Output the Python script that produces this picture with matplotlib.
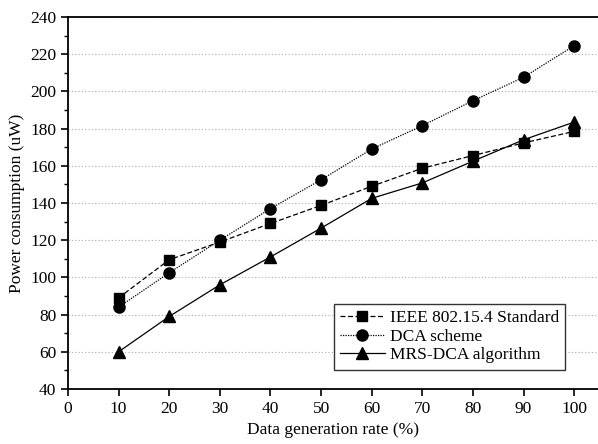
import numpy as np
import matplotlib
import matplotlib.pyplot as plt
from matplotlib.ticker import MultipleLocator

plt.rcParams['font.family'] = ['Liberation Serif', 'DejaVu Serif']

rates = [10, 20, 30, 40, 50, 60, 70, 80, 90, 100]
ieee = [89, 109.5, 119, 129, 138.7, 149, 158.7, 165.5, 172.3, 178.5]
dca = [84, 102.5, 120, 137, 152.5, 169, 181.6, 195, 207.6, 224.6]
mrs = [60, 79, 96, 111, 126.5, 142.5, 150.8, 162.5, 174, 183.5]


def main():
    fig = plt.figure(figsize=(5.98, 4.44), dpi=100)
    ax = fig.add_axes([0.1137, 0.1239, 0.8863, 0.8378])

    ax.plot(rates, ieee, color='black', linestyle=(0, (4, 2)), linewidth=0.9,
            marker='s', markersize=7.5, label='IEEE 802.15.4 Standard')
    ax.plot(rates, dca, color='black', linestyle=(0, (1, 1)), linewidth=0.9,
            marker='o', markersize=8, label='DCA scheme')
    ax.plot(rates, mrs, color='black', linestyle='-', linewidth=0.9,
            marker='^', markersize=9, label='MRS-DCA algorithm')

    ax.set_xlim(0, 104.7)
    ax.set_ylim(40, 240)
    ax.xaxis.set_major_locator(MultipleLocator(10))
    ax.yaxis.set_major_locator(MultipleLocator(20))
    ax.yaxis.set_minor_locator(MultipleLocator(10))
    ax.grid(axis='y', which='major', color='#aaaaaa', linestyle=(0, (1, 2)), linewidth=0.8)
    ax.set_axisbelow(True)

    ax.spines['right'].set_visible(False)
    for s in ['left', 'bottom', 'top']:
        ax.spines[s].set_linewidth(1.3)
    ax.tick_params(which='major', direction='out', length=5, width=1.2, labelsize=12.5)
    ax.tick_params(which='minor', direction='out', length=3, width=1.0)

    ax.set_xlabel('Data generation rate (%)', fontsize=12.5)
    ax.set_ylabel('Power consumption (uW)', fontsize=12.5)

    leg = ax.legend(loc='lower right', bbox_to_anchor=(0.955, 0.029), fontsize=12.5,
                    fancybox=False, framealpha=1, edgecolor='#333333',
                    handlelength=2.6, borderpad=0.35, labelspacing=0.15,
                    handletextpad=0.3)
    leg.get_frame().set_linewidth(1.0)

    fig.savefig('out.png', dpi=100)


if __name__ == '__main__':
    main()
